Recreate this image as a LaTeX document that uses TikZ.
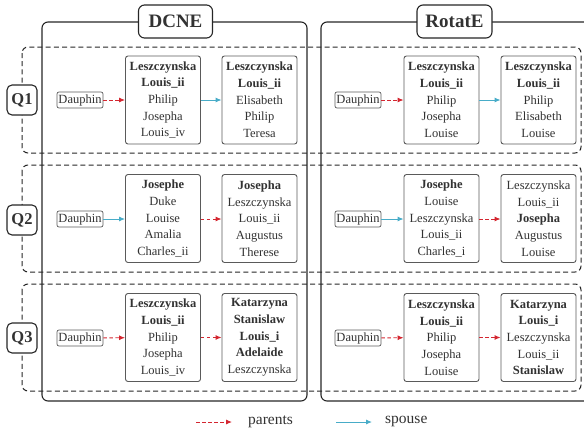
\documentclass[tikz,border=0pt]{standalone}
\usepackage{fontspec}
\setmainfont{Liberation Serif}
\usetikzlibrary{arrows.meta}
\definecolor{parred}{RGB}{212,38,48}
\definecolor{spblue}{RGB}{72,172,200}
\definecolor{txtgray}{RGB}{50,50,50}
\definecolor{boxgray}{RGB}{90,90,90}
\tikzset{
  panel/.style={draw=black!85, line width=1.1pt, rounded corners=6pt},
  title/.style={draw=black!85, line width=1.1pt, rounded corners=6pt, fill=white, minimum height=33pt, inner sep=0pt, font=\fontsize{19}{22}\selectfont\bfseries, text=txtgray},
  qrow/.style={draw=black!85, line width=1pt, dash pattern=on 5pt off 3.2pt, rounded corners=6pt},
  qlab/.style={draw=black!85, line width=1.1pt, rounded corners=5pt, fill=white, minimum width=30pt, minimum height=30pt, inner sep=0pt, font=\fontsize{16.5}{18}\selectfont\bfseries, text=txtgray},
  dau/.style={draw=boxgray, line width=0.7pt, rounded corners=2pt, inner sep=1.5pt, minimum height=16pt, font=\fontsize{12.5}{15}\selectfont, text=txtgray},
  lst/.style={draw=boxgray, line width=0.9pt, rounded corners=2.5pt, minimum width=75pt, minimum height=88pt, inner sep=0pt, align=center, font=\fontsize{12.5}{16.7}\selectfont, text=txtgray},
  par/.style={draw=parred, line width=0.9pt, dash pattern=on 3.5pt off 2.5pt, -{Latex[length=6pt,width=5pt]}},
  spo/.style={draw=spblue, line width=0.9pt, -{Latex[length=6pt,width=5pt]}},
  leg/.style={font=\fontsize{15.5}{18}\selectfont, text=txtgray, anchor=west, inner sep=0pt}
}
\begin{document}
\begin{tikzpicture}[x=1pt,y=-1pt]
\useasboundingbox (0,0) rectangle (584,437);
% panels
\draw[panel] (42,22) rectangle (307,401);
\draw[panel] (321,22) rectangle (590,401);
% dashed rows
\draw[qrow] (22,47) rectangle (581,153);
\draw[qrow] (22,165) rectangle (581,272);
\draw[qrow] (22,284) rectangle (581,391);
% titles
\node[title, minimum width=74pt] (tD) at (175.5,21.5) {DCNE};
\node[title, minimum width=75pt] (tR) at (454.5,21.5) {RotatE};
% Q labels
\node[qlab] (q1) at (22,100) {Q1};
\node[qlab] (q2) at (22,220) {Q2};
\node[qlab] (q3) at (22,338) {Q3};
% ---------- Q1 ----------
\node[dau] (d1L) at (80,100) {Dauphin};
\node[lst] (a1L) at (163,100) {\textbf{Leszczynska}\\\textbf{Louis\_ii}\\Philip\\Josepha\\Louis\_iv};
\node[lst] (b1L) at (259.5,100) {\textbf{Leszczynska}\\\textbf{Louis\_ii}\\Elisabeth\\Philip\\Teresa};
\draw[par] (d1L) -- (a1L);
\draw[spo] (a1L) -- (b1L);
\node[dau] (d1R) at (358,100) {Dauphin};
\node[lst] (a1R) at (441.5,100) {\textbf{Leszczynska}\\\textbf{Louis\_ii}\\Philip\\Josepha\\Louise};
\node[lst] (b1R) at (538.5,100) {\textbf{Leszczynska}\\\textbf{Louis\_ii}\\Philip\\Elisabeth\\Louise};
\draw[par] (d1R) -- (a1R);
\draw[spo] (a1R) -- (b1R);
% ---------- Q2 ----------
\node[dau] (d2L) at (80,219) {Dauphin};
\node[lst] (a2L) at (163,218.5) {\textbf{Josephe}\\Duke\\Louise\\Amalia\\Charles\_ii};
\node[lst] (b2L) at (259.5,218.5) {\textbf{Josepha}\\Leszczynska\\Louis\_ii\\Augustus\\Therese};
\draw[spo] (d2L) -- (a2L.west |- d2L);
\draw[par] (a2L.east |- d2L) -- (b2L.west |- d2L);
\node[dau] (d2R) at (358,219) {Dauphin};
\node[lst] (a2R) at (441.5,218.5) {\textbf{Josephe}\\Louise\\Leszczynska\\Louis\_ii\\Charles\_i};
\node[lst] (b2R) at (538.5,218.5) {Leszczynska\\Louis\_ii\\\textbf{Josepha}\\Augustus\\Louise};
\draw[spo] (d2R) -- (a2R.west |- d2R);
\draw[par] (a2R.east |- d2R) -- (b2R.west |- d2R);
% ---------- Q3 ----------
\node[dau] (d3L) at (80,338) {Dauphin};
\node[lst] (a3L) at (163,337.5) {\textbf{Leszczynska}\\\textbf{Louis\_ii}\\Philip\\Josepha\\Louis\_iv};
\node[lst] (b3L) at (259.5,337.5) {\textbf{Katarzyna}\\\textbf{Stanislaw}\\\textbf{Louis\_i}\\\textbf{Adelaide}\\Leszczynska};
\draw[par] (d3L) -- (a3L);
\draw[par] (a3L) -- (b3L);
\node[dau] (d3R) at (358,338) {Dauphin};
\node[lst] (a3R) at (441.5,337.5) {\textbf{Leszczynska}\\\textbf{Louis\_ii}\\Philip\\Josepha\\Louise};
\node[lst] (b3R) at (538.5,337.5) {\textbf{Katarzyna}\\\textbf{Louis\_i}\\Leszczynska\\Louis\_ii\\\textbf{Stanislaw}};
\draw[par] (d3R) -- (a3R);
\draw[par] (a3R) -- (b3R);
% ---------- legend ----------
\coordinate (p0) at (196,422);
\coordinate (p1) at (232,422);
\coordinate (s0) at (336,422);
\coordinate (s1) at (372,422);
\draw[par] (p0) -- (p1);
\draw[spo] (s0) -- (s1);
\node[leg] (lp) at (248,421.5) {parents};
\node[leg] (ls) at (385,421.5) {spouse};
\end{tikzpicture}
\end{document}
